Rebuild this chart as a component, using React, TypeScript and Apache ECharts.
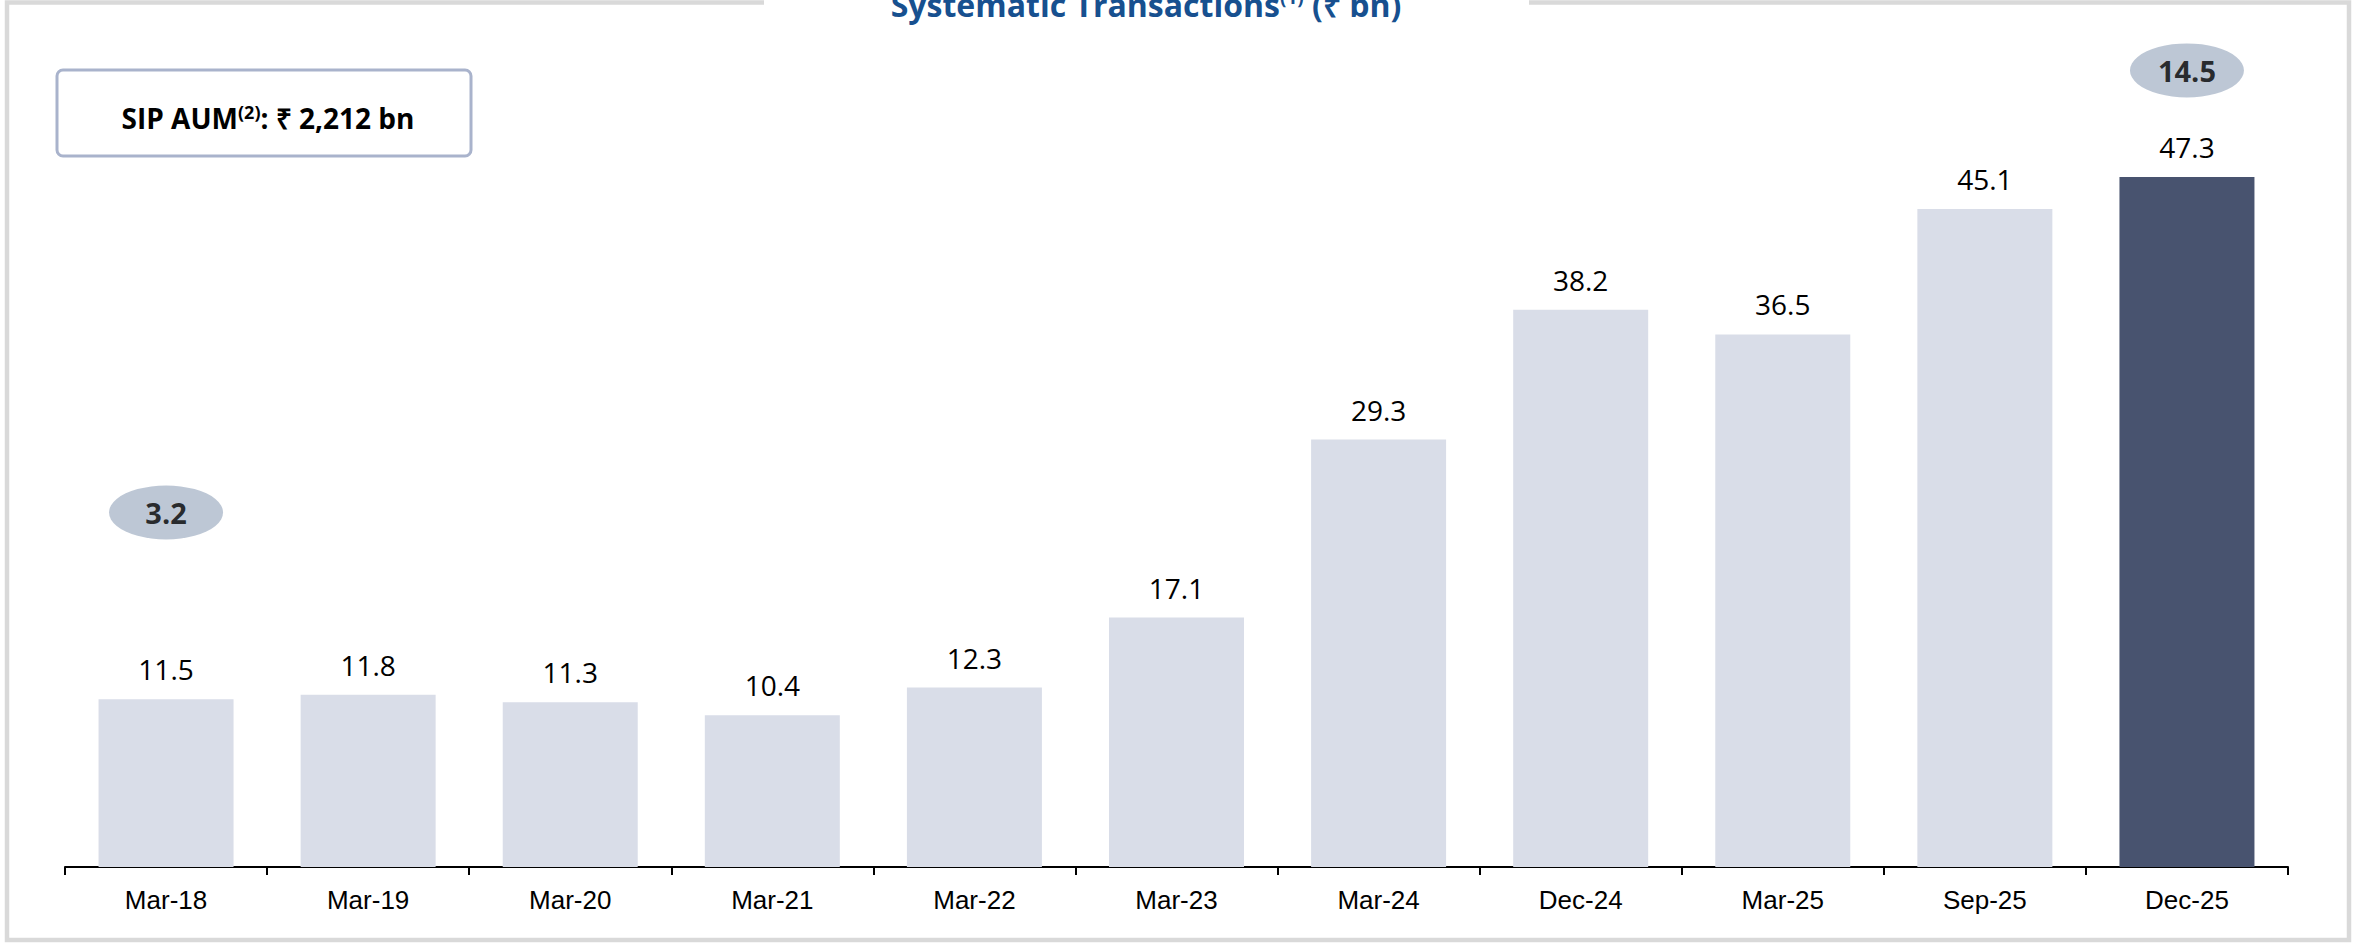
import React, { useEffect, useRef } from "react";
import * as echarts from "echarts";

const categories = ["Mar-18", "Mar-19", "Mar-20", "Mar-21", "Mar-22", "Mar-23", "Mar-24", "Dec-24", "Mar-25", "Sep-25", "Dec-25"];
const transactions = [11.5, 11.8, 11.3, 10.4, 12.3, 17.1, 29.3, 38.2, 36.5, 45.1, 47.3];
const calloutCategories = ["Mar-18", "Dec-25"];
const calloutValues = [3.2, 14.5];
const sipAumText = "SIP AUM{sup|(2)}: ₹ 2,212 bn";
const titleText = "Systematic Transactions{sup|(1)} (₹ bn)";

// layout (axis units used only to place the callout ellipses)
const CALLOUT_LEVEL = [24.3, 54.6];
const W = 2356;
const H = 944;

export default function App() {
  const ref = useRef<HTMLDivElement>(null);
  useEffect(() => {
    if (!ref.current) return;
    const chart = echarts.init(ref.current, undefined, { renderer: "svg" });
    const lastIdx = transactions.length - 1;
    chart.setOption({
      animation: false,
      backgroundColor: "#ffffff",
      grid: { left: 65, right: 68, top: 137.5, bottom: 77, containLabel: false },
      xAxis: {
        type: "category",
        data: categories,
        boundaryGap: true,
        axisLine: { show: true, lineStyle: { color: "#000", width: 2 } },
        axisTick: { show: true, length: 8, lineStyle: { color: "#000", width: 2 } },
        axisLabel: { interval: 0, margin: 20, fontFamily: "Liberation Sans", fontSize: 26, color: "#000" },
        splitLine: { show: false },
      },
      yAxis: { type: "value", min: 0, max: 50, show: false, splitLine: { show: false } },
      series: [
        {
          type: "bar",
          barWidth: 135,
          data: transactions.map((v, i) => ({
            value: v,
            itemStyle: { color: i === lastIdx ? "#48536f" : "#d9dde8" },
          })),
          label: {
            show: true,
            position: "top",
            distance: 16,
            fontFamily: "Open Sans",
            fontSize: 28,
            color: "#000",
            formatter: (p: any) => Number(p.value).toFixed(1),
          },
        },
        {
          type: "scatter",
          clip: false,
          silent: true,
          z: 5,
          symbol: "circle",
          symbolSize: [114, 54],
          itemStyle: { color: "#adb9ca" },
          data: calloutCategories.map((c, i) => [c, CALLOUT_LEVEL[i]]),
          label: {
            show: true,
            position: "inside",
            fontFamily: "Open Sans",
            fontWeight: "bold",
            fontSize: 29,
            color: "#000",
            formatter: (p: any) => calloutValues[p.dataIndex].toFixed(1),
          },
        },
      ],
      graphic: [
        {
          type: "polyline",
          silent: true,
          shape: {
            points: [
              [764, 2.5],
              [7, 2.5],
              [7, 940],
              [2349, 940],
              [2349, 2.5],
              [1529, 2.5],
            ],
          },
          style: { stroke: "#d9d9d9", lineWidth: 4.5, fill: null },
        },
        {
          type: "text",
          x: 1146,
          y: 4,
          style: {
            text: titleText,
            align: "center",
            verticalAlign: "middle",
            fontFamily: "Open Sans",
            fontWeight: "bold",
            fontSize: 32,
            fill: "#17508f",
            rich: {
              sup: { fontFamily: "Open Sans", fontWeight: "bold", fontSize: 19, fill: "#17508f", padding: [0, 0, 14, 0] },
            },
          },
        },
        {
          type: "rect",
          shape: { x: 57, y: 70, width: 414, height: 86, r: 6 },
          style: { fill: "#ffffff", stroke: "#a9b3cc", lineWidth: 3 },
        },
        {
          type: "text",
          x: 268,
          y: 118,
          style: {
            text: sipAumText,
            align: "center",
            verticalAlign: "middle",
            fontFamily: "Open Sans",
            fontWeight: "bold",
            fontSize: 28,
            fill: "#000",
            rich: {
              sup: { fontFamily: "Open Sans", fontWeight: "bold", fontSize: 18, fill: "#000", padding: [0, 0, 12, 0] },
            },
          },
        },
      ],
    });
    return () => chart.dispose();
  }, []);
  return <div ref={ref} style={{ position: "fixed", left: 0, top: 0, width: W, height: H }} />;
}
